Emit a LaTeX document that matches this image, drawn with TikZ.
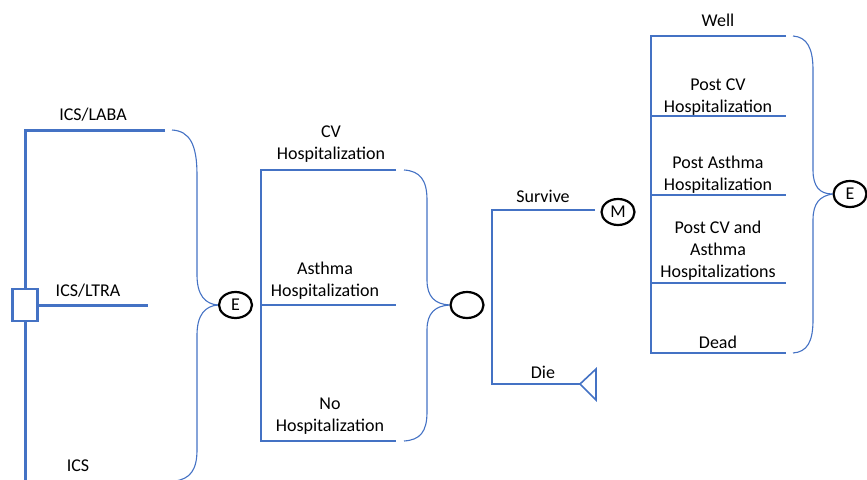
\documentclass[tikz,border=0pt]{standalone}
\usepackage{fontspec}
\setmainfont{Carlito}
\usetikzlibrary{shapes.geometric}
\definecolor{lineblue}{RGB}{68,114,196}
\begin{document}
\begin{tikzpicture}[x=1pt,y=-1pt,
  thickl/.style={draw=lineblue,line width=3pt},
  thinl/.style={draw=lineblue,line width=1.6pt},
  bracel/.style={draw=lineblue,line width=1.1pt},
  lab/.style={font=\fontsize{18}{22}\selectfont,align=center,inner sep=0pt},
  chance/.style={ellipse,draw=black,line width=2.2pt,minimum width=33pt,minimum height=26pt,inner sep=0pt,font=\fontsize{18}{20}\selectfont},
  decsq/.style={rectangle,draw=lineblue,line width=2.5pt,fill=white,minimum width=25pt,minimum height=32pt,inner sep=0pt}]
\useasboundingbox (0,0) rectangle (867,479);
% ---------- left: decision ----------
\coordinate (ltop) at (25,130);
\coordinate (lbot) at (25,482);
\node[decsq] (dec) at (25,305) {};
\coordinate (laba) at (165,130);
\coordinate (ltra) at (148,305);
\draw[thickl] (laba) -- (ltop) -- (dec.north);
\draw[thickl] (dec.south) -- (lbot);
\draw[thickl] (dec.east) -- (ltra);
\node[lab] (tlaba) at (93,115) {ICS/LABA};
\node[lab] (tltra) at (88,291) {ICS/LTRA};
\node[lab] (tics) at (78,466) {ICS};
% left brace
\node[chance] (e1) at (235.5,305) {E};
\draw[bracel] (172,130) .. controls (190,131) and (197,145) .. (197,175) -- (197,275)
  .. controls (197,295) and (205,304) .. (e1.west);
\draw[bracel] (e1.west) .. controls (205,306) and (197,315) .. (197,335) -- (197,450)
  .. controls (197,470) and (190,479) .. (175,481);
% ---------- middle ----------
\coordinate (mtop) at (261,170);
\coordinate (mmid) at (261,305);
\coordinate (mbot) at (261,441);
\coordinate (cv) at (396,170);
\coordinate (as) at (396,305);
\coordinate (no) at (396,441);
\draw[thinl] (cv) -- (mtop) -- (mbot) -- (no);
\draw[thinl] (mmid) -- (as);
\node[lab] (tcv) at (331,144) {CV\\Hospitalization};
\node[lab] (tas) at (325,281) {Asthma\\Hospitalization};
\node[lab] (tno) at (330,416) {No\\Hospitalization};
\node[chance] (c1) at (467,305) {};
\draw[bracel] (404,170) .. controls (420,171) and (427,180) .. (427,200) -- (427,280)
  .. controls (427,297) and (435,304) .. (c1.west);
\draw[bracel] (c1.west) .. controls (435,306) and (427,313) .. (427,330) -- (427,412)
  .. controls (427,432) and (420,440) .. (404,441);
% ---------- survive / die ----------
\coordinate (stop) at (492,210);
\coordinate (sbot) at (492,384);
\coordinate (surv) at (595,210);
\coordinate (die) at (580,384);
\draw[thinl] (surv) -- (stop) -- (sbot) -- (die);
\node[lab] (tsurv) at (543,196) {Survive};
\node[lab] (tdie) at (543,372) {Die};
\node[chance] (m) at (618,212) {M};
\coordinate (tt) at (596,369);
\coordinate (tb) at (596,400);
\draw[thinl,line join=miter] (tt) -- (die) -- (tb) -- cycle;
% ---------- right: Markov states ----------
\coordinate (rtop) at (651,36);
\coordinate (rbot) at (651,353);
\coordinate (rwell) at (786,36);
\coordinate (rcv) at (786,116);
\coordinate (ras) at (786,195);
\coordinate (rboth) at (786,283);
\coordinate (rdead) at (786,353);
\draw[thinl] (rwell) -- (rtop) -- (rbot) -- (rdead);
\draw[thinl] (651,116) -- (rcv);
\draw[thinl] (651,195) -- (ras);
\draw[thinl] (651,283) -- (rboth);
\node[lab] (twell) at (718,20) {Well};
\node[lab] (tpcv) at (718,97) {Post CV\\Hospitalization};
\node[lab] (tpas) at (718,175) {Post Asthma\\Hospitalization};
\node[lab] (tpboth) at (718,251) {Post CV and\\Asthma\\Hospitalizations};
\node[lab] (tdead) at (718,342) {Dead};
\node[chance] (e2) at (850,194) {E};
\draw[bracel] (793,36) .. controls (807,37) and (813,48) .. (813,70) -- (813,170)
  .. controls (813,187) and (820,194) .. (e2.west);
\draw[bracel] (e2.west) .. controls (820,196) and (813,203) .. (813,220) -- (813,320)
  .. controls (813,342) and (807,352) .. (793,353);
\end{tikzpicture}
\end{document}
